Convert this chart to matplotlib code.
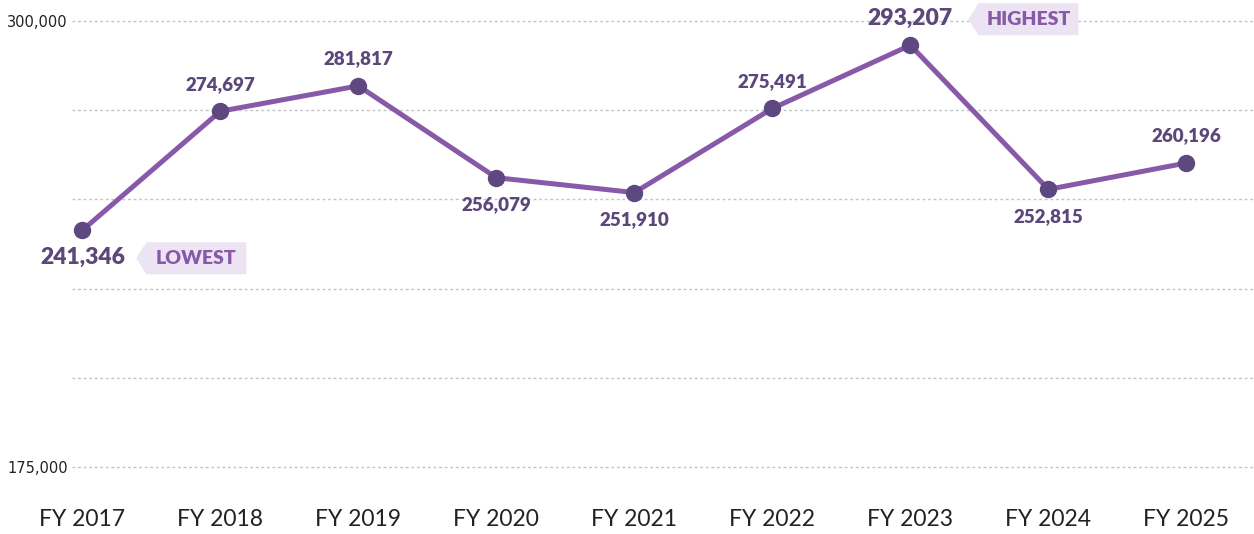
import matplotlib.pyplot as plt
from matplotlib.patches import Polygon
from matplotlib.transforms import ScaledTranslation

# data
years = ["FY 2017", "FY 2018", "FY 2019", "FY 2020", "FY 2021",
         "FY 2022", "FY 2023", "FY 2024", "FY 2025"]
values = [241346, 274697, 281817, 256079, 251910, 275491, 293207, 252815, 260196]
label_pos = ["below", "above", "above", "below", "below", "above", "above", "below", "above"]
y_ticks = [175000, 200000, 225000, 250000, 275000, 300000]

LINE = "#8759a8"
DOT = "#5e4880"
TXT = "#5b4779"
BADGE_BG = "#ede4f3"
BADGE_TXT = "#8759a8"

plt.rcParams["font.family"] = ["Lato", "DejaVu Sans"]

fig = plt.figure(figsize=(12.54, 5.34), dpi=100)
ax = fig.add_axes([72 / 1254, 0.1255, 1 - 72 / 1254, 0.8352])

x = list(range(len(years)))
ax.plot(x, values, color=LINE, lw=3.6, zorder=3, solid_capstyle="round")
ax.plot(x, values, "o", color=DOT, ms=11.5, zorder=4)

ax.set_xlim(-0.075, 8.49)
ax.set_ylim(175000, 300000)
ax.set_yticks(y_ticks)
ax.set_yticklabels(["175,000", "", "", "", "", "300,000"])
ax.set_xticks(x)
ax.set_xticklabels(years)
ax.tick_params(axis="y", length=0, pad=3, labelsize=10.5, labelcolor="#222222")
ax.tick_params(axis="x", length=0, pad=30, labelsize=16.5, labelcolor="#222222")
for lab in ax.get_yticklabels():
    lab.set_fontfamily(["Liberation Sans Narrow", "DejaVu Sans"])
for s in ax.spines.values():
    s.set_visible(False)
ax.grid(axis="y", color="#c4c4c4", ls=(0, (2, 2)), lw=1)
for gl in ax.get_ygridlines():
    gl.set_clip_on(False)
ax.set_axisbelow(True)

imax = values.index(max(values))
imin = values.index(min(values))

for i, v in enumerate(values):
    big = i in (imax, imin)
    off = 19.5 if label_pos[i] == "above" else -19.5
    ax.annotate(f"{v:,}", (i, v), xytext=(0, off), textcoords="offset points",
                ha="center", va="center", fontsize=16.5 if big else 13.5,
                fontweight="heavy", color=TXT, zorder=5)


def badge(i, dx, dy, text):
    # tag-shaped badge, dx/dy = offset of the tip from the point in pixels (y up)
    w, h, notch = 110, 32, 10
    verts = [(dx, dy), (dx + notch, dy + h / 2), (dx + w, dy + h / 2),
             (dx + w, dy - h / 2), (dx + notch, dy - h / 2)]
    verts = [(a / 100, b / 100) for a, b in verts]
    tr = fig.dpi_scale_trans + ScaledTranslation(i, values[i], ax.transData)
    ax.add_patch(Polygon(verts, closed=True, transform=tr, facecolor=BADGE_BG,
                         edgecolor="none", zorder=5, clip_on=False))
    ax.annotate(text, (i, values[i]), xytext=((dx + notch / 2 + w / 2) / 1.389, dy / 1.389),
                textcoords="offset points", ha="center", va="center",
                fontsize=14, fontweight="heavy", color=BADGE_TXT, zorder=6)


badge(imin, 54, -28, "LOWEST")
badge(imax, 58, 26, "HIGHEST")

fig.savefig("out.png", dpi=100)
